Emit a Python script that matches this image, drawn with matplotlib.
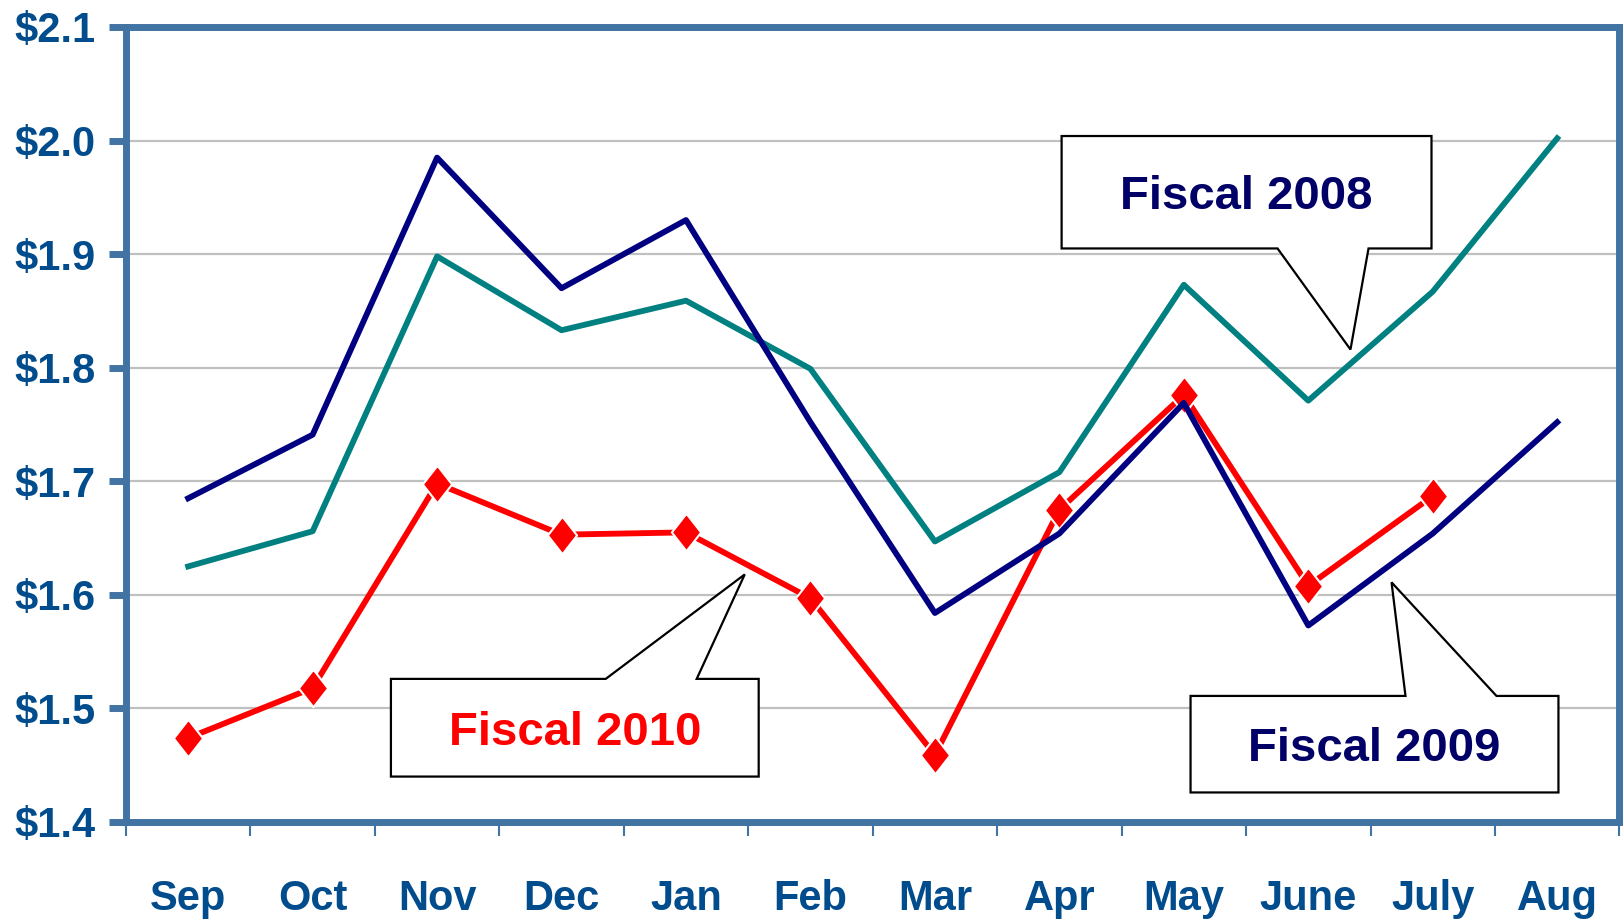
import matplotlib.pyplot as plt
from matplotlib.patches import Polygon

months = ['Sep', 'Oct', 'Nov', 'Dec', 'Jan', 'Feb', 'Mar', 'Apr', 'May', 'June', 'July', 'Aug']
fy2008 = [1.625, 1.656, 1.898, 1.833, 1.859, 1.799, 1.647, 1.708, 1.873, 1.771, 1.867, 2.002]
fy2009 = [1.685, 1.741, 1.985, 1.870, 1.930, 1.752, 1.584, 1.654, 1.769, 1.573, 1.654, 1.752]
fy2010 = [1.474, 1.518, 1.698, 1.653, 1.655, 1.597, 1.459, 1.675, 1.776, 1.608, 1.687]
y_ticks = [1.4, 1.5, 1.6, 1.7, 1.8, 1.9, 2.0, 2.1]

spine_color = '#4173a3'
label_color = '#004c8c'
font = ['Liberation Sans', 'DejaVu Sans']

fig = plt.figure(figsize=(16.23, 9.21), dpi=100)
ax = fig.add_axes([0.0776, 0.1075, 0.9202, 0.8632])

x = list(range(len(months)))

# grid lines behind the data
for yv in y_ticks[1:-1]:
    ax.axhline(yv, color='#c0c0c0', lw=1.6, zorder=1)

# diamond marker, a bit taller than wide
diamond = [(0, 1), (0.78, 0), (0, -1), (-0.78, 0), (0, 1)]

ax.plot(x[:len(fy2010)], fy2010, color='#ff0000', lw=4.2, marker=diamond,
        ms=27, mfc='#ff0000', mec='white', mew=1.5, zorder=3)
ax.plot(x, fy2008, color='#008080', lw=4.2, zorder=4)
ax.plot(x, fy2009, color='#000080', lw=4.2, zorder=5)

ax.set_xlim(-0.5, 11.5)
ax.set_ylim(1.4, 2.1)

for s in ax.spines.values():
    s.set_color(spine_color)
    s.set_linewidth(5)

ax.set_yticks(y_ticks)
ax.set_yticklabels(['$%.1f' % v for v in y_ticks], fontsize=30, fontweight='bold',
                   color=label_color, family=font)
ax.tick_params(axis='y', direction='out', length=12, width=5, color=spine_color, pad=10)

# tick marks sit between the months, labels centred on them
ax.set_xticks([i - 0.5 for i in range(len(months) + 1)])
ax.set_xticklabels([])
ax.tick_params(axis='x', which='major', direction='out', length=10, width=1.5, color=spine_color)
ax.set_xticks(x, minor=True)
ax.set_xticklabels(months, minor=True, fontsize=30, fontweight='bold',
                   color=label_color, family=font)
ax.tick_params(axis='x', which='minor', length=0, pad=41)


def callout(box, base, tip, text, color):
    x0, x1, y0, y1 = box
    b0, b1 = base
    if tip[1] < y0:
        # pointer hangs below the box
        verts = [(x0, y1), (x1, y1), (x1, y0), (b1, y0), tip, (b0, y0), (x0, y0)]
    else:
        verts = [(x0, y0), (x1, y0), (x1, y1), (b1, y1), tip, (b0, y1), (x0, y1)]
    ax.add_patch(Polygon(verts, closed=True, facecolor='white', edgecolor='black',
                         lw=1.6, zorder=6))
    ax.text((x0 + x1) / 2, (y0 + y1) / 2, text, ha='center', va='center_baseline',
            fontsize=34, fontweight='bold', color=color, family=font, zorder=7)


callout((7.018, 9.99, 1.905, 2.004), (8.753, 9.484), (9.339, 1.816), 'Fiscal 2008', '#000066')
callout((1.629, 4.584, 1.440, 1.526), (3.355, 4.086), (4.472, 1.618), 'Fiscal 2010', '#ff0000')
callout((8.054, 11.01, 1.426, 1.511), (9.781, 10.512), (9.669, 1.611), 'Fiscal 2009', '#000066')

fig.savefig('out.png', dpi=100)
